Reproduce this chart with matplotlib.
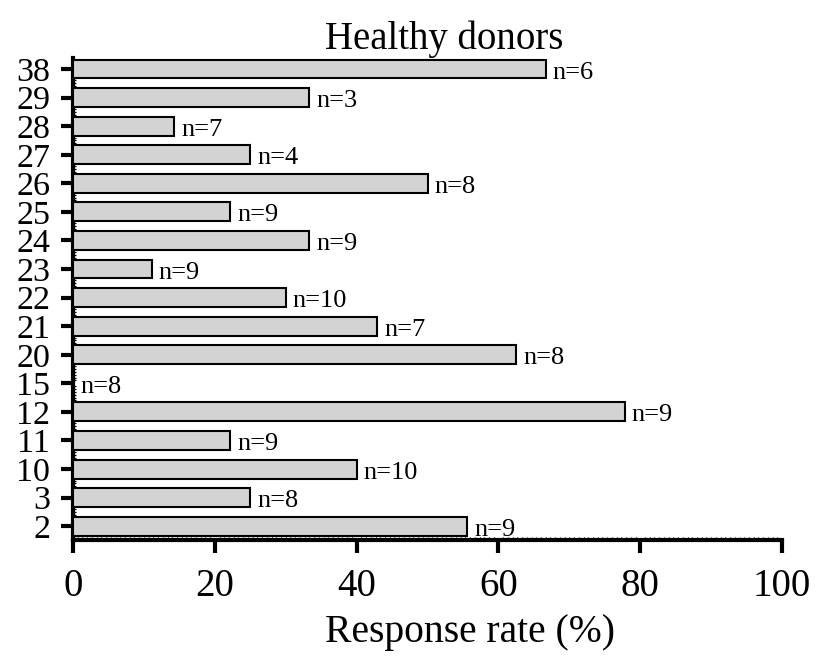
import matplotlib
matplotlib.use("Agg")
import matplotlib.pyplot as plt
from matplotlib.ticker import MultipleLocator

categories = ["2", "3", "10", "11", "12", "15", "20", "21", "22", "23", "24", "25", "26", "27", "28", "29", "38"]
rates = [55.6, 25.0, 40.0, 22.2, 77.8, 0.0, 62.5, 42.9, 30.0, 11.1, 33.3, 22.2, 50.0, 25.0, 14.3, 33.3, 66.7]
n_labels = ["n=9", "n=8", "n=10", "n=9", "n=9", "n=8", "n=8", "n=7", "n=10", "n=9", "n=9", "n=9", "n=8", "n=4", "n=7", "n=3", "n=6"]
x_ticks = [0, 20, 40, 60, 80, 100]

plt.rcParams['font.family'] = ['Liberation Serif', 'DejaVu Serif']

fig = plt.figure(figsize=(8.16, 6.58), dpi=100)
ax = fig.add_axes([0.0895, 0.179, 0.869, 0.733])

pos = list(range(len(categories)))
ax.barh(pos, rates, height=0.66, color='#d3d3d3', edgecolor='black', linewidth=1.5, zorder=3)

for p, r, lab in zip(pos, rates, n_labels):
    ax.annotate(lab, xy=(r, p), xytext=(5, -2.5), textcoords='offset points',
                va='center', ha='left', fontsize=19)

ax.set_xlim(0, 100)
ax.set_ylim(-0.49, len(categories) - 1 + 0.39)
ax.set_yticks(pos)
ax.set_yticklabels(categories)
ax.set_xticks(x_ticks)
ax.xaxis.set_minor_locator(MultipleLocator(2 / 3))
ax.yaxis.set_minor_locator(MultipleLocator(0.1))

for s in ['top', 'right']:
    ax.spines[s].set_visible(False)
for s in ['left', 'bottom']:
    ax.spines[s].set_linewidth(3)

ax.tick_params(axis='x', which='major', direction='out', length=9, width=3, labelsize=28, pad=11)
ax.tick_params(axis='y', which='major', direction='out', length=8.5, width=3, labelsize=24.5, pad=8)
ax.tick_params(which='minor', direction='in', length=2.5, width=0.9)

ax.set_xlabel("Response rate (%)", fontsize=28.5, va='top')
ax.xaxis.set_label_coords(0.56, -0.152)
ax.set_title("Healthy donors", fontsize=28, pad=0, x=0.523)

fig.savefig("out.png", dpi=100)
